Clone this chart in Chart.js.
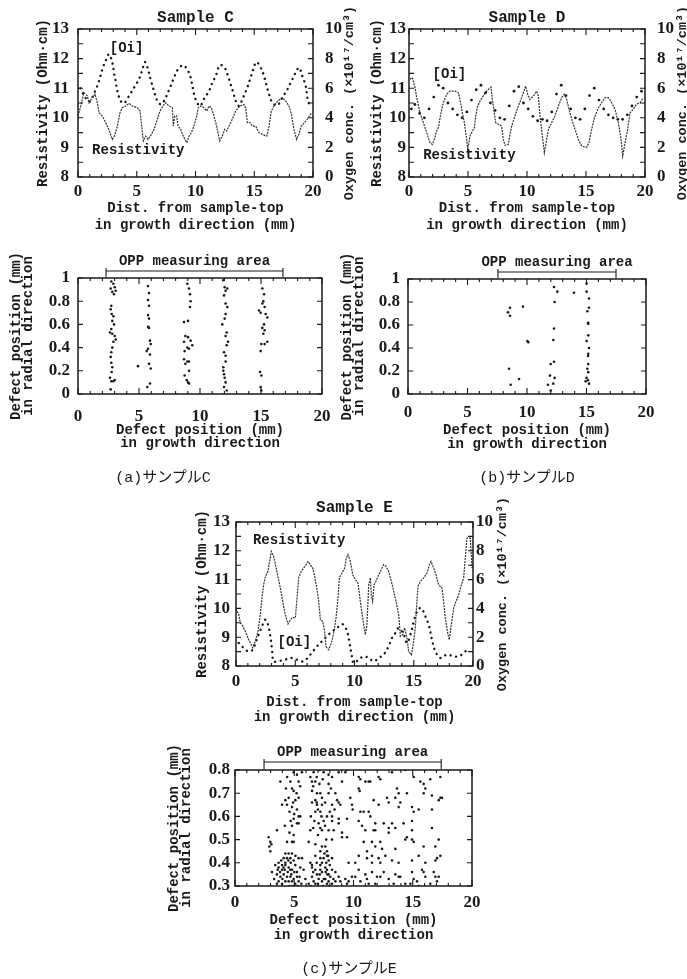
<!DOCTYPE html>
<html>
<head>
<meta charset="utf-8">
<script src="https://cdn.jsdelivr.net/npm/chart.js@4.4.1/dist/chart.umd.min.js"></script>
<style>
  body { margin: 0; background: #fff; width: 687px; height: 979px; position: relative; overflow: hidden; }
  canvas { position: absolute; }
  .cap { position: absolute; transform: translate(-50%, -50%); white-space: nowrap;
         font: 15px "Liberation Mono", "Noto Sans CJK JP", monospace; color: #1a1a1a; }
</style>
</head>
<body>
<canvas id="profC" width="365" height="245" style="left:0;top:0"></canvas>
<canvas id="profD" width="327" height="245" style="left:360px;top:0"></canvas>
<canvas id="defC" width="345" height="220" style="left:0;top:240px"></canvas>
<canvas id="defD" width="352" height="220" style="left:335px;top:240px"></canvas>
<canvas id="profE" width="345" height="250" style="left:180px;top:480px"></canvas>
<canvas id="defE" width="365" height="249" style="left:160px;top:730px"></canvas>
<div class="cap" style="left:163px;top:476px">(a)サンプルC</div>
<div class="cap" style="left:527px;top:476px">(b)サンプルD</div>
<div class="cap" style="left:349px;top:967px">(c)サンプルE</div>

<script>
// ---- Sample C : resistivity (Ohm·cm) and [Oi] (x10^17/cm^3) vs distance (mm)
const cResDist = [0, 0.23, 0.5, 0.8, 0.94, 1.2, 1.45, 1.65, 1.8, 2.07, 2.35, 2.5, 2.72, 2.92, 3.1, 3.35, 3.57, 3.77, 4.05, 4.34, 4.62, 5.05, 5.28, 5.42, 5.56, 5.76, 5.96, 6.24, 6.47, 6.75, 6.98, 7.26, 7.46, 7.74, 8.03, 8.11, 8.23, 8.4, 8.51, 8.74, 8.96, 9.25, 9.45, 9.65, 9.87, 10.1, 10.24, 10.44, 10.72, 10.95, 11.15, 11.35, 11.57, 11.8, 12.06, 12.28, 12.48, 12.65, 12.85, 13.13, 13.42, 13.79, 14.13, 14.27, 14.41, 14.64, 14.84, 15.12, 15.4, 15.69, 16.06, 16.26, 16.45, 16.68, 17.02, 17.39, 17.67, 17.96, 18.16, 18.38, 18.6, 18.8, 19.0, 19.29, 19.5, 19.86];
const cRes = [10.06, 10.4, 10.85, 10.74, 10.5, 10.68, 10.8, 10.5, 10.17, 10.06, 9.84, 9.72, 9.5, 9.27, 9.38, 9.72, 10.17, 10.34, 10.4, 10.49, 10.4, 10.34, 10.23, 9.72, 9.22, 9.38, 9.27, 9.44, 9.61, 9.95, 10.23, 10.42, 10.51, 10.4, 10.34, 9.72, 10.06, 10.06, 9.72, 9.61, 9.38, 9.16, 9.38, 9.5, 9.72, 10.06, 10.34, 10.4, 10.34, 10.23, 10.4, 10.34, 10.06, 9.72, 9.22, 9.38, 9.61, 9.55, 9.72, 9.95, 10.23, 10.4, 10.45, 10.34, 9.84, 9.84, 9.72, 9.72, 9.5, 9.44, 9.38, 9.72, 10.23, 10.4, 10.57, 10.68, 10.57, 10.4, 10.12, 9.61, 9.27, 9.44, 9.72, 9.84, 9.95, 10.17];
const cOiDist = [0.2, 0.6, 1.0, 1.4, 1.79, 2.07, 2.35, 2.64, 2.92, 3.06, 3.2, 3.35, 3.63, 3.91, 4.34, 4.77, 5.19, 5.48, 5.7, 5.96, 6.18, 6.47, 6.75, 7.09, 7.46, 7.83, 8.17, 8.51, 8.96, 9.45, 9.65, 9.82, 10.01, 10.38, 10.78, 11.15, 11.43, 11.72, 12.06, 12.43, 12.77, 12.99, 13.22, 13.42, 13.7, 13.99, 14.35, 14.64, 14.92, 15.18, 15.55, 15.83, 16.06, 16.26, 16.54, 16.96, 17.39, 17.82, 18.24, 18.52, 18.81, 19.09, 19.38, 19.52, 19.72];
const cOi = [6.0, 5.4, 5.1, 5.7, 6.49, 7.27, 7.84, 8.3, 7.73, 7.05, 6.49, 5.81, 5.14, 4.98, 5.47, 6.04, 6.6, 7.27, 7.77, 7.27, 6.6, 5.81, 5.14, 4.91, 5.36, 6.04, 6.71, 7.27, 7.55, 7.05, 6.49, 5.81, 5.25, 4.8, 5.36, 5.81, 6.37, 6.82, 7.55, 7.45, 6.82, 6.26, 5.7, 5.14, 4.8, 5.25, 5.92, 6.6, 7.27, 7.77, 7.39, 6.82, 6.15, 5.59, 5.02, 4.84, 5.36, 5.92, 6.6, 7.05, 7.39, 6.82, 6.15, 5.36, 4.8];

// ---- Sample D
const dResDist = [0.08, 0.28, 0.51, 0.65, 0.93, 1.21, 1.5, 1.78, 1.98, 2.2, 2.34, 2.49, 2.71, 2.91, 3.19, 3.47, 3.9, 4.18, 4.32, 4.52, 4.69, 4.89, 4.97, 5.17, 5.31, 5.54, 5.65, 5.82, 6.02, 6.3, 6.58, 6.95, 7.06, 7.23, 7.34, 7.57, 7.85, 7.99, 8.14, 8.42, 8.56, 8.7, 8.98, 9.27, 9.49, 9.69, 9.89, 10.06, 10.25, 10.54, 10.82, 10.96, 11.1, 11.3, 11.47, 11.67, 11.81, 12.09, 12.37, 12.66, 12.94, 13.16, 13.36, 13.56, 13.79, 14.07, 14.35, 14.63, 15.06, 15.25, 15.48, 15.71, 16.05, 16.33, 16.61, 16.9, 17.18, 17.46, 17.74, 17.97, 18.11, 18.31, 18.53, 18.73, 19.01, 19.29, 19.58, 19.86];
const dRes = [11.3, 11.36, 11.02, 10.68, 10.17, 9.84, 9.5, 9.16, 9.1, 9.33, 9.55, 9.67, 10.17, 10.51, 10.79, 10.9, 10.9, 10.85, 10.62, 10.17, 9.84, 9.27, 8.93, 9.39, 9.5, 9.67, 10.06, 10.4, 10.57, 10.74, 10.9, 11.04, 10.62, 10.17, 9.84, 9.78, 9.72, 9.27, 9.07, 9.1, 9.44, 9.72, 10.06, 10.4, 10.62, 10.85, 11.07, 10.79, 10.62, 10.74, 10.9, 10.74, 10.06, 9.39, 8.82, 9.27, 9.61, 9.84, 10.06, 10.4, 10.68, 10.79, 10.62, 10.29, 9.95, 9.61, 9.27, 9.05, 9.0, 9.16, 9.61, 10.0, 10.34, 10.51, 10.68, 10.68, 10.51, 10.29, 9.84, 9.27, 8.71, 9.16, 9.61, 10.17, 10.29, 10.46, 10.51, 10.68];
const dOiDist = [0.2, 0.5, 0.9, 1.3, 1.7, 2.1, 2.5, 2.9, 3.3, 3.7, 4.1, 4.5, 4.9, 5.3, 5.7, 6.1, 6.5, 6.9, 7.3, 7.7, 8.1, 8.5, 8.9, 9.3, 9.7, 10.1, 10.5, 10.9, 11.3, 11.7, 12.1, 12.5, 12.9, 13.3, 13.7, 14.1, 14.5, 14.9, 15.3, 15.7, 16.1, 16.5, 16.9, 17.3, 17.7, 18.1, 18.5, 18.9, 19.3, 19.7];
const dOi = [4.6, 4.9, 4.3, 4.0, 4.6, 5.4, 6.2, 6.0, 5.0, 4.6, 4.2, 4.0, 4.4, 5.2, 5.9, 6.2, 5.7, 5.0, 4.5, 4.0, 3.9, 4.8, 5.8, 6.1, 5.0, 4.6, 4.1, 3.8, 3.9, 3.8, 4.4, 5.6, 6.2, 5.5, 4.6, 4.0, 3.9, 4.6, 5.5, 6.0, 5.2, 4.6, 4.2, 4.0, 3.9, 3.9, 4.2, 4.8, 5.4, 5.8];

// ---- Sample E
const eResDist = [0, 0.23, 0.37, 0.51, 0.79, 1.01, 1.21, 1.41, 1.63, 1.86, 2.05, 2.19, 2.33, 2.48, 2.7, 2.84, 2.98, 3.18, 3.32, 3.54, 3.74, 3.94, 4.16, 4.39, 4.59, 4.81, 5.01, 5.15, 5.29, 5.51, 5.71, 5.91, 6.08, 6.27, 6.47, 6.64, 6.84, 6.98, 7.12, 7.31, 7.48, 7.59, 7.82, 8.05, 8.24, 8.44, 8.61, 8.72, 8.95, 9.17, 9.31, 9.45, 9.65, 9.85, 10.07, 10.3, 10.49, 10.69, 10.91, 11.05, 11.2, 11.34, 11.42, 11.53, 11.65, 11.81, 12.04, 12.26, 12.46, 12.66, 12.88, 13.11, 13.31, 13.5, 13.73, 13.87, 14.07, 14.23, 14.43, 14.57, 14.8, 14.99, 15.13, 15.27, 15.36, 15.56, 15.84, 16.12, 16.32, 16.46, 16.68, 16.88, 17.1, 17.38, 17.52, 17.66, 17.89, 18.0, 18.17, 18.37, 18.57, 18.79, 19.02, 19.21, 19.35, 19.49, 19.77, 19.92];
const eRes = [10.0, 9.78, 9.49, 9.44, 9.2, 8.97, 8.8, 8.63, 8.86, 9.2, 9.78, 10.36, 10.82, 11.11, 11.29, 11.63, 11.98, 11.81, 11.52, 11.11, 10.71, 10.25, 9.78, 9.46, 9.61, 9.69, 9.67, 10.36, 11.06, 11.29, 11.4, 11.52, 11.63, 11.52, 11.4, 11.11, 10.65, 10.25, 9.61, 9.55, 9.2, 8.68, 8.57, 8.8, 9.15, 9.67, 10.36, 11.06, 11.23, 11.4, 11.75, 11.87, 11.63, 11.17, 11.0, 10.88, 10.25, 9.67, 9.09, 9.44, 10.82, 11.06, 10.48, 10.25, 10.82, 10.94, 11.17, 11.34, 11.52, 11.46, 11.29, 10.94, 10.59, 10.25, 9.78, 9.03, 9.09, 9.32, 8.97, 8.51, 8.39, 8.86, 9.32, 10.25, 10.77, 10.94, 11.06, 11.23, 11.52, 11.63, 11.4, 11.17, 10.82, 10.71, 10.25, 9.67, 9.09, 8.91, 9.44, 10.01, 10.25, 10.48, 10.82, 11.06, 11.75, 12.44, 12.44, 11.4];
const eOiDist = [0.23, 0.65, 1.07, 1.41, 1.69, 1.97, 2.25, 2.48, 2.7, 2.9, 3.04, 3.18, 3.6, 4.16, 4.59, 5.15, 5.71, 6.27, 6.84, 7.4, 7.96, 8.52, 9.0, 9.37, 9.56, 9.73, 9.93, 10.35, 10.77, 11.2, 11.62, 12.04, 12.46, 12.88, 13.16, 13.45, 13.73, 14.15, 14.43, 14.8, 15.08, 15.36, 15.64, 15.92, 16.26, 16.54, 16.82, 17.24, 17.81, 18.37, 18.79, 19.21, 19.63];
const eOi = [1.6, 1.25, 1.0, 1.13, 1.71, 2.29, 2.87, 3.22, 2.87, 2.06, 1.13, 0.32, 0.35, 0.44, 0.56, 0.44, 0.32, 0.79, 1.37, 1.83, 2.29, 2.64, 2.9, 2.41, 1.71, 0.9, 0.21, 0.44, 0.67, 0.56, 0.32, 0.56, 0.79, 1.37, 1.94, 2.29, 2.64, 2.18, 1.6, 2.41, 3.33, 3.91, 4.03, 3.56, 2.87, 1.83, 1.02, 0.56, 0.79, 0.67, 0.67, 0.9, 1.25];

// ---- OPP defect maps: [growth-direction mm, radial mm]
const defectsC = [
  [2.73, .97], [2.9, .95], [3.01, .92], [3.09, .89], [2.81, .88], [2.68, .91], [2.95, .86], [2.73, .76], [2.68, .73], [2.76, .69],
  [2.9, .67], [2.81, .63], [2.95, .6], [2.73, .56], [2.62, .53], [2.81, .52], [3.01, .5], [3.09, .47], [2.9, .45], [2.81, .4],
  [2.73, .36], [2.68, .32], [2.73, .27], [2.81, .23], [2.76, .19], [2.62, .14], [2.73, .11], [2.9, .11], [3.01, .12], [2.68, .04],
  [5.74, .93], [5.82, .87], [5.74, .81], [5.82, .76], [5.74, .68], [5.82, .65], [5.74, .58], [5.82, .57], [5.9, .46], [5.96, .43],
  [5.74, .39], [5.63, .37], [5.9, .34], [5.82, .26], [5.96, .22], [5.68, .06], [5.9, .09], [4.92, .24],
  [8.96, .95], [9.1, .91], [9.18, .86], [9.23, .8], [9.18, .75], [8.69, .62], [9.02, .63], [8.8, .5], [9.02, .49], [9.23, .46],
  [8.69, .45], [8.96, .4], [9.37, .42], [9.1, .39], [8.74, .37], [8.69, .3], [8.96, .28], [9.1, .28], [8.8, .26], [9.1, .2],
  [8.74, .16], [8.91, .12], [9.02, .1], [9.1, .09],
  [11.91, .98], [12.02, .92], [12.1, .89], [12.24, .91], [11.97, .85], [12.1, .78], [12.24, .75], [12.1, .69], [12.02, .65], [11.83, .6],
  [12.19, .53], [12.1, .5], [12.3, .45], [12.19, .42], [11.97, .36], [12.1, .33], [12.1, .28], [11.91, .23], [11.97, .17], [12.02, .14],
  [12.1, .1], [11.97, .06], [12.19, .03], [11.91, .2],
  [15.11, .91], [15.25, .86], [15.19, .8], [15.11, .78], [15.3, .75], [14.84, .72], [14.97, .7], [15.38, .69], [15.52, .66], [15.25, .6],
  [15.11, .57], [15.3, .55], [15.19, .52], [15.03, .43], [15.3, .43], [15.52, .45], [14.97, .37], [14.92, .19], [15.03, .16], [14.97, .06], [15.03, .03]
];
const defectsD = [
  [8.57, .75], [8.4, .71], [8.57, .68], [9.66, .76], [10.03, .46], [10.11, .45], [8.49, .22], [9.33, .13], [8.63, .08],
  [12.27, .93], [12.55, .89], [12.32, .8], [12.27, .57], [12.21, .47], [11.99, .26], [12.27, .28], [11.93, .16], [12.32, .14],
  [11.76, .08], [12.21, .09], [11.99, .03], [13.95, .88],
  [15.01, .96], [15.01, .89], [15.21, .83], [15.21, .75], [15.07, .72], [15.13, .62], [15.15, .61], [15.15, .51], [15.01, .46],
  [15.21, .4], [15.15, .35], [15.13, .33], [15.15, .26], [15.07, .22], [15.15, .19], [15.01, .14], [15.13, .12], [14.93, .11], [15.21, .09]
];
const defectsE = [
  [4.95, .79], [5.23, .78], [5.65, .79], [6.36, .77], [6.5, .75], [6.64, .79], [7.12, .8], [7.48, .79], [7.9, .78], [8.19, .77],
  [8.75, .79], [9.31, .79], [9.45, .8], [10.44, .77], [10.58, .76], [11.0, .75], [11.28, .75], [11.42, .75], [12.12, .77], [12.26, .76],
  [13.25, .79], [14.37, .8], [15.08, .77], [15.92, .74], [16.48, .76], [17.33, .77], [3.83, .75], [4.67, .75], [5.37, .75], [6.78, .75],
  [7.12, .74], [7.9, .74], [9.03, .75], [15.64, .75], [16.06, .72],
  [4.81, .72], [4.95, .71], [4.53, .68], [4.25, .67], [6.5, .71], [6.92, .7], [7.2, .7], [7.9, .7], [8.47, .7], [8.61, .67],
  [8.75, .66], [10.44, .72], [10.52, .71], [9.73, .68], [11.7, .67], [12.83, .68], [13.67, .72], [13.81, .7], [13.53, .68], [14.51, .7],
  [15.92, .7], [16.62, .69], [17.33, .68], [17.47, .68], [17.19, .67], [7.34, .68], [6.78, .67], [5.37, .68], [5.09, .67],
  [3.97, .65], [4.39, .65], [4.81, .64], [5.23, .63], [6.5, .66], [6.92, .65], [7.34, .65], [8.19, .65], [8.89, .65], [9.87, .65],
  [9.93, .63], [10.58, .62], [10.86, .62], [11.28, .62], [11.42, .6], [12.12, .65], [12.97, .66], [13.95, .66], [13.81, .64], [14.94, .64],
  [15.08, .62], [15.5, .63], [16.62, .63], [6.78, .62], [7.2, .62], [7.76, .6], [8.19, .6], [5.37, .6], [5.51, .6], [4.95, .59], [8.75, .59],
  [4.81, .56], [5.23, .57], [5.37, .57], [7.06, .57], [7.48, .58], [8.19, .58], [8.75, .57], [9.45, .59], [10.44, .58], [10.72, .56],
  [11.84, .57], [11.7, .54], [12.55, .57], [12.97, .55], [13.25, .57], [14.23, .57], [14.94, .58], [16.62, .55], [3.54, .54], [4.95, .52],
  [6.36, .54], [7.2, .55], [7.34, .54], [7.9, .54], [8.33, .54], [9.03, .53], [11.0, .54], [11.84, .54], [14.94, .54], [12.97, .53], [13.53, .55],
  [2.84, .51], [2.98, .49], [3.07, .48], [2.9, .47], [4.39, .49], [4.81, .49], [4.95, .49], [6.22, .49], [6.78, .48], [7.34, .47],
  [7.62, .47], [8.19, .5], [9.03, .51], [9.45, .51], [10.86, .49], [11.56, .49], [12.26, .49], [14.37, .5], [14.51, .51], [14.94, .5],
  [15.08, .49], [17.19, .5], [15.92, .47], [16.91, .47], [7.2, .45], [7.76, .45], [11.14, .45], [11.84, .47], [12.41, .46], [13.53, .46], [2.98, .45],
  [4.25, .44], [4.53, .44], [4.81, .44], [4.11, .42], [4.39, .42], [4.67, .42], [3.68, .4], [3.97, .39], [4.25, .4], [4.95, .41],
  [5.37, .42], [5.65, .42], [6.78, .43], [7.2, .42], [7.48, .42], [7.76, .43], [7.9, .41], [8.19, .42], [10.44, .43], [11.14, .42],
  [11.56, .43], [12.12, .42], [12.69, .43], [13.25, .41], [13.81, .4], [14.94, .41], [15.5, .43], [16.06, .4], [16.91, .41], [17.05, .42],
  [6.36, .4], [6.5, .39], [7.2, .39], [7.34, .4], [9.59, .4], [10.15, .4], [11.56, .4], [12.26, .4], [17.33, .43],
  [3.4, .39], [3.68, .38], [3.97, .37], [4.25, .39], [4.53, .38], [4.67, .37], [4.81, .37], [5.09, .39], [5.23, .36], [5.51, .38],
  [5.79, .37], [3.12, .36], [3.54, .35], [3.83, .34], [4.11, .35], [4.39, .34], [4.67, .34], [4.95, .33], [5.23, .34], [3.68, .32],
  [3.97, .31], [4.25, .32], [4.53, .32], [4.81, .32], [5.09, .31], [5.37, .32], [3.54, .31], [6.5, .38], [6.78, .37], [6.92, .35],
  [7.2, .37], [7.34, .36], [7.62, .38], [7.76, .37], [7.9, .35], [8.04, .34], [8.19, .37], [7.62, .33], [7.76, .31], [7.9, .32],
  [8.19, .31], [7.34, .32], [7.06, .33], [6.5, .34], [6.64, .32], [6.78, .31], [8.47, .36], [8.75, .34], [8.89, .32], [9.31, .33],
  [9.45, .31], [9.59, .32], [9.87, .34], [10.15, .34], [10.44, .37], [10.58, .32], [11.0, .35], [11.14, .33], [11.28, .31], [11.56, .36],
  [11.84, .31], [11.98, .34], [12.26, .34], [12.55, .36], [12.97, .33], [13.39, .31], [13.53, .35], [13.81, .34], [13.95, .34], [14.94, .36],
  [15.08, .33], [15.36, .32], [15.78, .37], [15.92, .36], [16.06, .34], [16.48, .31], [16.77, .36], [16.91, .34], [17.05, .32], [17.19, .34],
  [14.37, .31], [14.8, .31], [15.5, .3], [8.47, .32], [5.94, .33], [6.22, .31],
  [3.8, .36], [4.0, .33], [4.2, .37], [4.45, .36], [4.6, .3], [4.75, .35], [5.0, .36], [5.3, .3], [5.45, .34], [3.3, .33],
  [3.9, .41], [4.1, .38], [4.7, .4], [5.1, .43], [4.5, .41], [3.6, .37], [4.9, .3], [5.6, .31], [6.9, .4], [7.0, .31],
  [7.5, .33], [7.7, .4], [7.8, .35], [8.0, .39], [7.45, .3], [7.65, .36], [7.95, .3], [8.3, .33], [6.6, .36], [6.4, .3],
  [7.15, .35], [7.55, .44], [7.85, .43], [6.6, .73], [6.9, .77], [7.0, .63], [7.3, .6], [6.7, .58], [7.6, .66], [8.0, .62],
  [8.4, .63], [6.4, .6], [7.0, .52], [7.7, .5], [6.6, .55], [8.1, .72], [7.4, .76], [6.9, .66], [7.6, .56], [4.3, .72],
  [4.6, .62], [5.0, .61], [4.2, .56], [4.6, .53], [4.9, .66], [5.2, .7], [4.4, .77], [5.5, .73], [4.7, .58]
];
const oppC = [2.3, 16.8];
const oppD = [7.56, 17.48];
const oppE = [2.45, 17.4];

const FONT = '"Liberation Mono", "DejaVu Sans Mono", monospace';
const NUM_FONT = '"Liberation Serif", "DejaVu Serif", serif';
const INK = '#1a1a1a';
const OXY_TITLE = 'Oxygen conc. (×10¹⁷/cm³)';
Chart.defaults.font.family = FONT;
Chart.defaults.font.weight = 'bold';
Chart.defaults.color = INK;

// frame, inward tick marks, in-plot labels, OPP bracket, right axis title
const panelDecor = {
  id: 'panelDecor',
  afterDraw(chart, args, o) {
    const {ctx, chartArea: a, scales} = chart;
    const x = scales.x, yl = scales.y, yr = scales.y1 || scales.y;
    ctx.save();
    ctx.strokeStyle = INK;
    ctx.lineWidth = 1.5;
    ctx.strokeRect(a.left, a.top, a.width, a.height);
    ctx.lineWidth = 1.1;
    ctx.beginPath();
    x.ticks.forEach(t => {
      const px = x.getPixelForValue(t.value);
      const len = t.value % 5 === 0 ? 6 : 3;
      ctx.moveTo(px, a.bottom); ctx.lineTo(px, a.bottom - len);
      ctx.moveTo(px, a.top); ctx.lineTo(px, a.top + len);
    });
    yl.ticks.forEach(t => {
      const py = yl.getPixelForValue(t.value);
      ctx.moveTo(a.left, py); ctx.lineTo(a.left + 5, py);
    });
    yr.ticks.forEach(t => {
      const py = yr.getPixelForValue(t.value);
      ctx.moveTo(a.right, py); ctx.lineTo(a.right - 5, py);
    });
    ctx.stroke();

    ctx.fillStyle = INK;
    ctx.textBaseline = 'middle';
    ctx.font = 'bold 14px ' + FONT;
    (o.notes || []).forEach(n => {
      ctx.textAlign = 'left';
      ctx.fillText(n.text, x.getPixelForValue(n.x), scales[n.axis].getPixelForValue(n.y));
    });

    if (o.opp) {
      const x0 = x.getPixelForValue(o.opp[0]);
      const x1 = x.getPixelForValue(o.opp[1]);
      const yb = a.top - o.oppGap;
      ctx.beginPath();
      ctx.moveTo(x0, yb - 3); ctx.lineTo(x0, a.top - 1);
      ctx.moveTo(x1, yb - 3); ctx.lineTo(x1, a.top - 1);
      ctx.moveTo(x0, yb); ctx.lineTo(x1, yb);
      ctx.stroke();
      ctx.textAlign = 'center';
      ctx.fillText('OPP measuring area', (x0 + x1) / 2, yb - 10);
    }

    if (o.rightTitle) {
      ctx.font = 'bold 13.5px ' + FONT;
      ctx.translate(a.right + o.rightTitleGap, (a.top + a.bottom) / 2);
      ctx.rotate(-Math.PI / 2);
      ctx.textAlign = 'center';
      ctx.fillText(o.rightTitle, 0, 0);
    }
    ctx.restore();
  }
};
Chart.register(panelDecor);

function distAxis(title, p) {
  return {
    type: 'linear', min: 0, max: 20,
    grid: {display: false, drawTicks: false},
    border: {display: false},
    ticks: {stepSize: 1, autoSkip: false, maxRotation: 0, padding: p.tickPad,
      font: {family: NUM_FONT, size: 17}, callback: v => (v % 5 === 0 ? v : '')},
    title: {display: true, text: title, font: {size: 14, lineHeight: p.titleLh / 14},
      padding: {top: 0, bottom: p.titlePad}},
    afterFit: s => { s.height = p.height; }
  };
}

function valueAxis(pos, min, max, step, label, p) {
  return {
    type: 'linear', position: pos, min: min, max: max,
    grid: {display: false, drawTicks: false},
    border: {display: false},
    ticks: {stepSize: step, autoSkip: false, padding: p.tickPad,
      font: {family: NUM_FONT, size: 17}, callback: p.fmt},
    title: {display: !!label, text: label, font: {size: 14, lineHeight: p.titleLh / 14},
      padding: {top: p.titlePad, bottom: 0}},
    afterFit: s => { s.width = p.width; }
  };
}

function profileChart(id, s) {
  const res = s.resDist.map((x, i) => ({x, y: s.res[i]}));
  const oi = s.oiDist.map((x, i) => ({x, y: s.oi[i]}));
  const oiSet = s.oiDots
    ? {label: '[Oi]', data: oi, yAxisID: 'y1', showLine: false, pointRadius: 1.4,
       pointBackgroundColor: INK, pointBorderWidth: 0}
    : {label: '[Oi]', data: oi, yAxisID: 'y1', borderColor: INK, borderWidth: 2.4,
       borderDash: [0.1, 5.5], borderCapStyle: 'round', pointRadius: 0, tension: 0.35};
  return new Chart(document.getElementById(id), {
    type: 'line',
    data: {
      datasets: [
        {label: 'Resistivity', data: res, yAxisID: 'y', borderColor: '#333', borderWidth: 1.2,
         borderDash: [2, 1], pointRadius: 0, tension: 0},
        oiSet
      ]
    },
    options: {
      responsive: false, animation: false, devicePixelRatio: 1,
      layout: {padding: {top: s.padTop, left: 0, right: 0, bottom: 0}},
      plugins: {
        legend: {display: false}, tooltip: {enabled: false},
        title: {display: true, text: s.title, fullSize: false,
          font: {size: 16, weight: 'bold', lineHeight: 1.2}, padding: {top: 0, bottom: s.titleGap}},
        panelDecor: {notes: s.notes, rightTitle: OXY_TITLE, rightTitleGap: s.rightTitleGap}
      },
      scales: {
        x: distAxis(['Dist. from sample-top', 'in growth direction (mm)'], s.x),
        y: valueAxis('left', 8, 13, 0.5, 'Resistivity (Ohm·cm)',
          Object.assign({fmt: v => (Number.isInteger(v) ? v : '')}, s.y)),
        y1: valueAxis('right', 0, 10, 1, '',
          Object.assign({fmt: v => (v % 2 === 0 ? v : '')}, s.y1))
      }
    }
  });
}

function defectChart(id, s) {
  return new Chart(document.getElementById(id), {
    type: 'scatter',
    data: {
      datasets: [{label: 'Defects', data: s.points.map(([x, y]) => ({x, y})), pointRadius: 1.3,
        pointBackgroundColor: INK, pointBorderWidth: 0}]
    },
    options: {
      responsive: false, animation: false, devicePixelRatio: 1,
      layout: {padding: {top: s.padTop, left: 0, right: s.padRight, bottom: 0}},
      plugins: {
        legend: {display: false}, tooltip: {enabled: false},
        panelDecor: {opp: s.opp, oppGap: s.oppGap}
      },
      scales: {
        x: distAxis(['Defect position (mm)', 'in growth direction'], s.x),
        y: valueAxis('left', s.yMin, s.yMax, s.yStep, ['Defect position (mm)', 'in radial direction'],
          Object.assign({fmt: v => +v.toFixed(1)}, s.y))
      }
    }
  });
}

profileChart('profC', {
  title: 'Sample C', resDist: cResDist, res: cRes, oiDist: cOiDist, oi: cOi, oiDots: false,
  padTop: 8.4, titleGap: 1.4, rightTitleGap: 37,
  x: {height: 68, tickPad: 4, titleLh: 17, titlePad: 11.5},
  y: {width: 78, tickPad: 9, titleLh: 17, titlePad: 34.5},
  y1: {width: 52, tickPad: 12, titleLh: 17, titlePad: 0},
  notes: [{text: '[Oi]', x: 2.7, y: 12.35, axis: 'y'}, {text: 'Resistivity', x: 1.2, y: 8.9, axis: 'y'}]
});

profileChart('profD', {
  title: 'Sample D', resDist: dResDist, res: dRes, oiDist: dOiDist, oi: dOi, oiDots: true,
  padTop: 8.4, titleGap: 1.4, rightTitleGap: 38,
  x: {height: 68, tickPad: 4, titleLh: 17, titlePad: 11.5},
  y: {width: 49, tickPad: 3, titleLh: 17, titlePad: 8.5},
  y1: {width: 42, tickPad: 12, titleLh: 17, titlePad: 0},
  notes: [{text: '[Oi]', x: 2.0, y: 11.45, axis: 'y'}, {text: 'Resistivity', x: 1.2, y: 8.74, axis: 'y'}]
});

profileChart('profE', {
  title: 'Sample E', resDist: eResDist, res: eRes, oiDist: eOiDist, oi: eOi, oiDots: false,
  padTop: 18.4, titleGap: 4.4, rightTitleGap: 30,
  x: {height: 64, tickPad: 5, titleLh: 15, titlePad: 5.5},
  y: {width: 56, tickPad: 6, titleLh: 17, titlePad: 13.5},
  y1: {width: 52, tickPad: 3, titleLh: 17, titlePad: 0},
  notes: [{text: 'Resistivity', x: 1.43, y: 12.37, axis: 'y'}, {text: '[Oi]', x: 3.5, y: 8.83, axis: 'y'}]
});

defectChart('defC', {
  points: defectsC, opp: oppC, oppGap: 7, yMin: 0, yMax: 1, yStep: 0.2,
  padTop: 38, padRight: 23,
  x: {height: 66, tickPad: 12, titleLh: 13.5, titlePad: 9.75},
  y: {width: 78, tickPad: 8, titleLh: 12, titlePad: 10}
});

defectChart('defD', {
  points: defectsD, opp: oppD, oppGap: 7, yMin: 0, yMax: 1, yStep: 0.2,
  padTop: 39, padRight: 41,
  x: {height: 66, tickPad: 8, titleLh: 14, titlePad: 9},
  y: {width: 73, tickPad: 8, titleLh: 12, titlePad: 6}
});

defectChart('defE', {
  points: defectsE, opp: oppE, oppGap: 8, yMin: 0.3, yMax: 0.8, yStep: 0.1,
  padTop: 40, padRight: 53,
  x: {height: 93, tickPad: 6.5, titleLh: 15, titlePad: 36.5},
  y: {width: 75, tickPad: 5, titleLh: 12, titlePad: 8}
});
</script>
</body>
</html>
